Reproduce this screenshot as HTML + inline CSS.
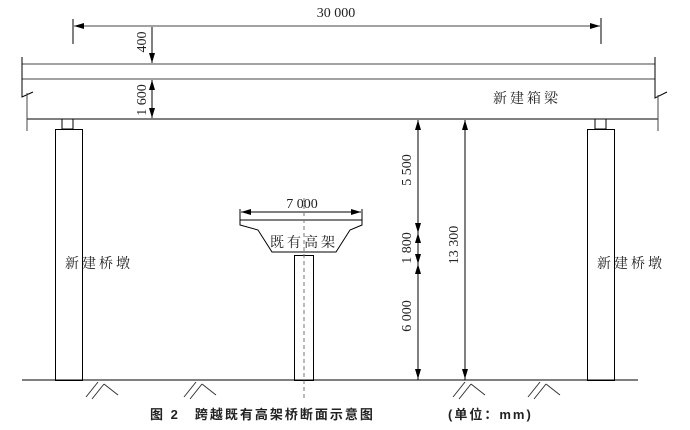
<!DOCTYPE html>
<html><head><meta charset="utf-8"><style>
body{margin:0;background:#fff;width:690px;height:430px;overflow:hidden}
svg{display:block}
text{font-family:"Liberation Serif","Noto Serif CJK SC",serif;fill:#222}
</style></head><body>
<svg width="690" height="430" viewBox="0 0 690 430" xmlns="http://www.w3.org/2000/svg">
<defs>
<marker id="a" viewBox="0 0 10 6" refX="10" refY="3" markerWidth="10" markerHeight="6" orient="auto-start-reverse" markerUnits="userSpaceOnUse"><path d="M0,0L10,3L0,6z" fill="#000"/></marker>
</defs>
<g stroke="#000" stroke-width="1" fill="none">
<line x1="73" y1="19" x2="73" y2="44"/><line x1="601" y1="18" x2="601" y2="44"/>
<line x1="74" y1="26" x2="600" y2="26" marker-start="url(#a)" marker-end="url(#a)" stroke="#444"/>
<line x1="22" y1="64" x2="655" y2="64" stroke="#444"/>
<line x1="22" y1="79" x2="655" y2="79" stroke="#444"/>
<line x1="27" y1="119" x2="658" y2="119"/>
<path d="M22,57V97L33,92"/><path d="M27,93V131" stroke="#444"/>
<path d="M655,57V98L667,92"/><path d="M658,95V131" stroke="#444"/>
<line x1="152" y1="27" x2="152" y2="63" marker-end="url(#a)"/>
<line x1="152" y1="80" x2="152" y2="118" marker-start="url(#a)" marker-end="url(#a)"/>
<rect x="62" y="119" width="11" height="10"/>
<rect x="55.5" y="129.5" width="27" height="251"/>
<rect x="595" y="119" width="11" height="10"/>
<rect x="587.5" y="129.5" width="27" height="251"/>
<line x1="418" y1="380" x2="418" y2="120" marker-end="url(#a)"/>
<line x1="418" y1="200" x2="418" y2="233" marker-end="url(#a)"/>
<line x1="418" y1="250" x2="418" y2="233" marker-end="url(#a)"/>
<line x1="418" y1="250" x2="418" y2="264" marker-end="url(#a)"/>
<line x1="418" y1="300" x2="418" y2="264" marker-end="url(#a)"/>
<line x1="418" y1="330" x2="418" y2="379" marker-end="url(#a)"/>
<line x1="465" y1="380" x2="465" y2="120" marker-end="url(#a)"/>
<line x1="465" y1="300" x2="465" y2="379" marker-end="url(#a)"/>
<line x1="240" y1="209" x2="240" y2="220"/><line x1="362" y1="209" x2="362" y2="220"/>
<line x1="241" y1="212" x2="361" y2="212" marker-start="url(#a)" marker-end="url(#a)"/>
<path d="M240,220H362V225L350,230L336,252H272L258,230L240,225Z"/>
<rect x="294.5" y="255.5" width="19" height="125"/>
<line x1="304" y1="198" x2="304" y2="400" stroke="#777" stroke-dasharray="4,3"/>
<line x1="22" y1="380" x2="638" y2="380"/>
<g stroke="#333">
<path d="M86,397L98,382M92,399L104,384M104,384L118,395"/>
<path d="M184,397L196,382M190,399L202,384M202,384L216,395"/>
<path d="M453,397L465,382M459,399L471,384M471,384L485,395"/>
<path d="M528,397L540,382M534,399L546,384M546,384L560,395"/>
</g>
</g>
<g font-size="14">
<text x="336" y="17" text-anchor="middle">30 000</text>
<text transform="translate(146,42) rotate(-90)" text-anchor="middle">400</text>
<text transform="translate(146,100) rotate(-90)" text-anchor="middle">1 600</text>
<text transform="translate(411,170) rotate(-90)" text-anchor="middle">5 500</text>
<text transform="translate(411,248) rotate(-90)" text-anchor="middle">1 800</text>
<text transform="translate(411,316) rotate(-90)" text-anchor="middle">6 000</text>
<text transform="translate(458,245) rotate(-90)" text-anchor="middle">13 300</text>
<text x="302" y="208" text-anchor="middle">7 000</text>
<g style="letter-spacing:3px">
<text x="493" y="103">新建箱梁</text>
<text x="65" y="268">新建桥墩</text>
<text x="597" y="268">新建桥墩</text>
<text x="270" y="247">既有高架</text>
</g>
</g>
<text x="150" y="419" font-size="13" font-weight="bold" style="font-family:'Liberation Sans','Noto Sans CJK SC',sans-serif;letter-spacing:2px">图 2　跨越既有高架桥断面示意图</text>
<text x="448" y="419" font-size="13" font-weight="bold" style="font-family:'Liberation Sans','Noto Sans CJK SC',sans-serif;letter-spacing:2px">(单位：mm)</text>
</svg>
</body></html>
